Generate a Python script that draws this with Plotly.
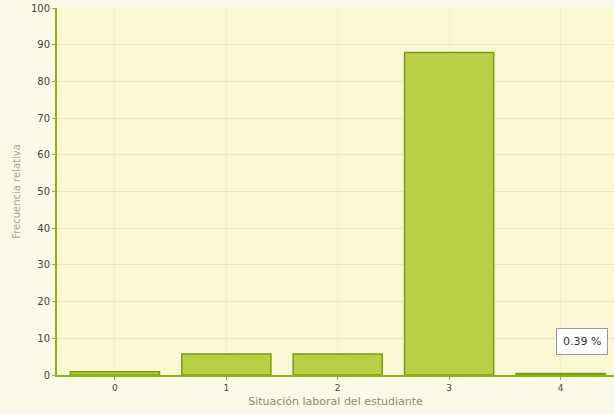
import plotly.graph_objects as go

categories = [0, 1, 2, 3, 4]
values = [0.9, 5.7, 5.7, 87.9, 0.39]
y_ticks = [0, 10, 20, 30, 40, 50, 60, 70, 80, 90, 100]
tooltip_value = 0.39

fig = go.Figure()
fig.add_trace(go.Bar(
    x=categories, y=values, width=0.8,
    marker=dict(color="#b9cf45", line=dict(color="#7f9c12", width=1.5)),
    showlegend=False,
))

fig.add_annotation(
    x=categories[4], y=tooltip_value, xref="x", yref="y",
    text=f"{tooltip_value} %", showarrow=False,
    xshift=21, yshift=32,
    font=dict(family="DejaVu Sans", size=11, color="#333333"),
    bgcolor="#ffffff", bordercolor="#9a9a9a", borderwidth=1, borderpad=6,
)

fig.update_layout(
    width=614, height=414,
    margin=dict(l=57, r=0, t=8, b=39),
    paper_bgcolor="#fbfae6",
    plot_bgcolor="#f9f7d4",
    font=dict(family="DejaVu Sans", size=10, color="#333333"),
    bargap=0.2,
)
fig.update_xaxes(
    range=[-0.52, 4.48], tickvals=categories, ticktext=[str(c) for c in categories],
    showline=True, linecolor="#8db411", linewidth=2,
    showgrid=True, gridcolor="#f0efcc", gridwidth=1,
    ticks="outside", tickcolor="#8db411", ticklen=3,
    tickfont=dict(size=9, color="#444444"),
    title=dict(text="Situación laboral del estudiante", font=dict(size=11, color="#8a8a7a"), standoff=6),
    zeroline=False,
)
fig.update_yaxes(
    range=[0, 100], tickvals=y_ticks,
    showline=True, linecolor="#8db411", linewidth=2,
    showgrid=True, gridcolor="#e6ebb0", gridwidth=1,
    ticks="outside", tickcolor="#8db411", ticklen=3,
    tickfont=dict(size=10, color="#444444"),
    title=dict(text="Frecuencia relativa", font=dict(size=10, color="#a8a898"), standoff=8),
    zeroline=False,
)

fig.write_html("out.html")
